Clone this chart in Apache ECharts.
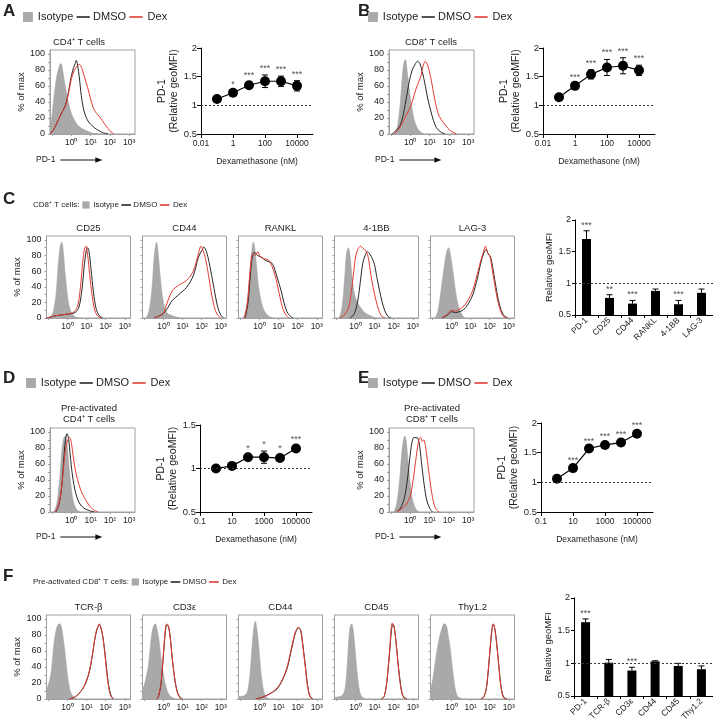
<!DOCTYPE html>
<html><head><meta charset="utf-8">
<script src="https://cdn.jsdelivr.net/npm/echarts@6/dist/echarts.min.js"></script>
<style>html,body{margin:0;padding:0;background:#fff}#c{width:713px;height:727px}</style>
</head><body><div id="c"></div>
<script>
// ---------------- DATA ----------------
const legendLabels = ['Isotype', 'DMSO', 'Dex'];
const histXTicks = [0, 1, 2, 3];
const histXTickLabels = ['10⁰', '10¹', '10²', '10³'];
const histYTicks = [0, 20, 40, 60, 80, 100];

// Panel A/B: dose response (nM)
const doseAB = [0.1, 1, 10, 100, 1000, 10000];
const xTicksAB = [0.01, 1, 100, 10000];
const xTickLabelsAB = ['0.01', '1', '100', '10000'];
const pd1CD4 = [1.11, 1.22, 1.35, 1.42, 1.42, 1.34];
const pd1CD4Err = [0.02, 0.03, 0.05, 0.11, 0.09, 0.09];
const pd1CD4Sig = ['', '*', '***', '***', '***', '***'];
const pd1CD8 = [1.14, 1.34, 1.54, 1.66, 1.69, 1.61];
const pd1CD8Err = [0.02, 0.03, 0.08, 0.14, 0.14, 0.09];
const pd1CD8Sig = ['', '***', '***', '***', '***', '***'];

// Panel D/E
const doseDE = [1, 10, 100, 1000, 10000, 100000];
const xTicksDE = [0.1, 10, 1000, 100000];
const xTickLabelsDE = ['0.1', '10', '1000', '100000'];
const pd1PreCD4 = [1.00, 1.03, 1.13, 1.13, 1.12, 1.23];
const pd1PreCD4Err = [0.01, 0.01, 0.03, 0.07, 0.04, 0.03];
const pd1PreCD4Sig = ['', '', '*', '*', '*', '***'];
const pd1PreCD8 = [1.06, 1.24, 1.57, 1.63, 1.67, 1.82];
const pd1PreCD8Err = [0.01, 0.01, 0.01, 0.03, 0.03, 0.03];
const pd1PreCD8Sig = ['', '***', '***', '***', '***', '***'];

// Panel C / F bar charts
const catC = ['PD-1', 'CD25', 'CD44', 'RANKL', '4-1BB', 'LAG-3'];
const valC = [1.70, 0.77, 0.68, 0.88, 0.67, 0.85];
const errC = [0.13, 0.05, 0.05, 0.03, 0.06, 0.06];
const sigC = ['***', '**', '***', '', '***', ''];
const catF = ['PD-1', 'TCR-β', 'CD3ε', 'CD44', 'CD45', 'Thy1.2'];
const valF = [1.63, 1.01, 0.89, 1.03, 0.96, 0.91];
const errF = [0.05, 0.05, 0.05, 0.01, 0.04, 0.05];
const sigF = ['***', '', '***', '', '', ''];

const histTitlesC = ['CD25', 'CD44', 'RANKL', '4-1BB', 'LAG-3'];
const histTitlesF = ['TCR-β', 'CD3ε', 'CD44', 'CD45', 'Thy1.2'];

// Histogram curves: [log10(intensity), % of max]
const isoA = [[-1.1,5],[-1.0,22],[-0.9,45],[-0.75,72],[-0.6,86],[-0.53,88],[-0.45,80],[-0.3,58],[-0.15,40],[0,26],[0.15,18],[0.3,12],[0.55,7],[0.8,4],[1.1,1],[1.5,0]];
const dmsoA = [[-1.1,0],[-0.9,6],[-0.7,16],[-0.5,26],[-0.3,36],[-0.15,52],[0,72],[0.12,83],[0.2,88],[0.26,92],[0.33,86],[0.42,70],[0.52,48],[0.62,33],[0.75,22],[0.9,15],[1.1,10],[1.3,6],[1.6,2],[1.9,0]];
const dexA = [[-1.1,0],[-0.9,6],[-0.7,16],[-0.5,26],[-0.3,35],[-0.15,50],[0,68],[0.15,79],[0.3,85],[0.42,87],[0.55,82],[0.7,70],[0.85,58],[1.0,44],[1.15,32],[1.3,26],[1.45,22],[1.6,17],[1.8,10],[2.0,4],[2.2,0]];

const isoB = [[-0.8,0],[-0.65,10],[-0.5,43],[-0.4,75],[-0.32,89],[-0.25,93],[-0.15,76],[-0.05,55],[0.05,38],[0.2,18],[0.35,8],[0.5,3],[0.7,0]];
const dmsoB = [[-0.95,0],[-0.75,4],[-0.56,9],[-0.4,20],[-0.3,32],[-0.15,52],[-0.05,66],[0.1,80],[0.25,87],[0.38,91],[0.5,88],[0.62,78],[0.75,64],[0.9,45],[1.05,30],[1.2,17],[1.35,8],[1.55,3],[1.8,0]];
const dexB = [[-0.85,0],[-0.6,6],[-0.4,14],[-0.2,24],[-0.05,31],[0.1,40],[0.28,55],[0.45,66],[0.55,72],[0.65,84],[0.78,91],[0.9,86],[1.05,72],[1.2,52],[1.35,34],[1.5,22],[1.7,15],[1.95,7],[2.15,3],[2.4,0]];

const isoC1 = [[-0.9,0],[-0.75,8],[-0.6,30],[-0.48,70],[-0.38,92],[-0.3,97],[-0.22,85],[-0.12,55],[0,28],[0.12,12],[0.28,4],[0.45,1],[0.6,0]];
const dmsoC1 = [[-1.1,0],[-0.6,3],[0,5],[0.4,7],[0.6,14],[0.75,35],[0.87,65],[0.98,86],[1.05,90],[1.13,85],[1.23,63],[1.36,33],[1.5,12],[1.66,3],[1.85,0]];
const dexC1 = [[-1.1,0],[-0.6,3],[0,5],[0.35,8],[0.55,17],[0.68,40],[0.8,72],[0.9,90],[0.97,92],[1.05,82],[1.16,56],[1.3,27],[1.44,9],[1.6,2],[1.78,0]];
const isoC2 = [[-0.9,0],[-0.75,10],[-0.6,38],[-0.5,75],[-0.42,92],[-0.37,97],[-0.3,88],[-0.2,60],[-0.08,32],[0.05,14],[0.2,6],[0.45,3],[0.7,1],[0.9,0]];
const dmsoC2 = [[-0.5,0],[-0.2,3],[0,6],[0.17,11],[0.45,22],[0.8,30],[1.2,39],[1.56,54],[1.83,78],[2.0,86],[2.11,91],[2.25,85],[2.4,70],[2.57,48],[2.72,28],[2.85,13],[3.0,4],[3.15,0]];
const dexC2 = [[-0.5,0],[-0.2,3],[0,6],[0.17,18],[0.46,35],[0.8,42],[1.2,48],[1.56,60],[1.83,82],[1.96,92],[2.05,88],[2.2,76],[2.35,56],[2.5,33],[2.65,15],[2.8,5],[3.0,0]];
const isoC3 = [[-0.85,0],[-0.7,12],[-0.55,45],[-0.42,82],[-0.32,97],[-0.25,90],[-0.15,65],[-0.05,40],[0.1,20],[0.25,9],[0.45,3],[0.7,0]];
const dmsoC3 = [[-0.75,0],[-0.6,20],[-0.48,55],[-0.38,78],[-0.25,84],[-0.1,80],[0.1,78],[0.3,74],[0.5,72],[0.66,70],[0.8,62],[0.95,50],[1.12,36],[1.28,20],[1.42,9],[1.58,3],[1.75,0]];
const dexC3 = [[-0.78,0],[-0.62,22],[-0.5,58],[-0.4,80],[-0.32,83],[-0.2,80],[-0.1,85],[0.05,78],[0.25,76],[0.48,74],[0.66,66],[0.8,56],[0.93,43],[1.08,26],[1.22,12],[1.38,4],[1.55,0]];
const isoC4 = [[-0.85,0],[-0.7,14],[-0.57,50],[-0.47,82],[-0.37,90],[-0.28,78],[-0.18,52],[-0.05,30],[0.1,20],[0.25,14],[0.4,9],[0.6,5],[0.85,2],[1.1,0]];
const dmsoC4 = [[-0.3,0],[-0.1,4],[0.05,14],[0.17,30],[0.28,52],[0.38,70],[0.5,80],[0.62,85],[0.75,82],[0.88,76],[0.99,69],[1.12,52],[1.26,35],[1.4,20],[1.54,9],[1.7,2],[1.85,0]];
const dexC4 = [[-0.8,0],[-0.55,5],[-0.35,14],[-0.19,39],[-0.08,62],[0,78],[0.12,88],[0.26,92],[0.4,89],[0.55,86],[0.68,76],[0.8,56],[0.95,36],[1.08,22],[1.22,10],[1.35,3],[1.55,0]];
const isoC5 = [[-0.85,0],[-0.7,10],[-0.55,35],[-0.4,62],[-0.25,85],[-0.15,90],[-0.05,80],[0.1,55],[0.25,28],[0.4,12],[0.55,4],[0.7,0]];
const dmsoC5 = [[-0.5,0],[-0.2,4],[0,8],[0.2,7],[0.4,8],[0.6,10],[0.85,17],[1.12,30],[1.35,50],[1.55,72],[1.72,85],[1.82,88],[1.92,82],[2.05,78],[2.15,66],[2.3,44],[2.45,24],[2.6,10],[2.75,3],[2.95,0]];
const dexC5 = [[-0.5,0],[-0.2,5],[0,10],[0.2,9],[0.4,11],[0.6,14],[0.85,22],[1.12,36],[1.35,56],[1.55,75],[1.7,87],[1.78,92],[1.88,84],[2.0,80],[2.12,64],[2.27,42],[2.42,22],[2.57,9],[2.72,2],[2.9,0]];

const isoD = [[-0.9,0],[-0.75,10],[-0.6,40],[-0.48,78],[-0.38,93],[-0.3,95],[-0.22,85],[-0.12,58],[0,30],[0.12,12],[0.28,3],[0.45,0]];
const dmsoD = [[-0.8,0],[-0.65,8],[-0.5,30],[-0.4,62],[-0.3,90],[-0.22,98],[-0.14,92],[-0.05,70],[0.05,48],[0.17,30],[0.3,18],[0.45,10],[0.65,5],[0.9,2],[1.2,0]];
const dexD = [[-0.85,0],[-0.7,6],[-0.55,22],[-0.42,50],[-0.3,78],[-0.18,90],[-0.08,93],[0.02,84],[0.12,66],[0.25,48],[0.4,34],[0.55,24],[0.7,17],[0.85,11],[1.0,6],[1.2,2],[1.4,0]];
const isoE = [[-0.85,0],[-0.7,10],[-0.55,40],[-0.42,78],[-0.33,92],[-0.27,95],[-0.2,86],[-0.1,60],[0,35],[0.12,15],[0.28,4],[0.45,0]];
const dmsoE = [[-0.7,0],[-0.5,5],[-0.3,18],[-0.15,40],[-0.02,68],[0.08,86],[0.18,93],[0.3,93],[0.4,92],[0.5,80],[0.6,58],[0.72,34],[0.85,15],[1.0,5],[1.15,0]];
const dexE = [[-0.7,0],[-0.45,4],[-0.2,10],[0,20],[0.12,35],[0.25,58],[0.37,80],[0.47,92],[0.55,93],[0.62,88],[0.7,90],[0.8,80],[0.92,58],[1.05,34],[1.18,15],[1.32,4],[1.5,0]];

const isoF1 = [[-1.1,11],[-0.95,22],[-0.85,34],[-0.7,71],[-0.55,90],[-0.43,94],[-0.34,92],[-0.25,80],[-0.15,62],[-0.05,40],[0.03,24],[0.12,12],[0.21,6],[0.35,2],[0.5,0]];
const dmsoF1 = [[0.1,0],[0.35,2],[0.57,6],[0.8,13],[0.94,19],[1.1,30],[1.21,41],[1.32,57],[1.42,73],[1.52,85],[1.6,90],[1.68,93],[1.75,89],[1.85,78],[1.95,60],[2.05,38],[2.15,18],[2.27,5],[2.4,0]];
const dexF1 = [[0.1,0],[0.35,2],[0.57,6],[0.8,13],[0.94,20],[1.1,31],[1.21,43],[1.32,58],[1.42,74],[1.52,86],[1.6,91],[1.66,94],[1.74,90],[1.84,79],[1.94,60],[2.04,37],[2.14,17],[2.26,4],[2.4,0]];
const isoF2 = [[-1.1,12],[-1.0,18],[-0.9,28],[-0.8,40],[-0.7,62],[-0.6,84],[-0.5,92],[-0.42,94],[-0.35,88],[-0.25,76],[-0.15,55],[-0.05,36],[0.09,19],[0.2,10],[0.3,5],[0.45,2],[0.6,0]];
const dmsoF2 = [[-0.35,0],[-0.25,4],[-0.13,19],[-0.05,40],[0.02,62],[0.08,80],[0.13,90],[0.18,93],[0.25,91],[0.32,84],[0.4,66],[0.47,48],[0.55,32],[0.64,18],[0.75,7],[0.88,2],[1.0,0]];
const dexF2 = [[-0.35,0],[-0.25,5],[-0.13,21],[-0.05,43],[0.02,65],[0.08,83],[0.13,92],[0.18,94],[0.24,92],[0.3,86],[0.38,70],[0.46,50],[0.55,32],[0.64,17],[0.75,6],[0.88,1],[1.0,0]];
const isoF3 = [[-1.1,3],[-0.8,4],[-0.65,8],[-0.55,20],[-0.46,41],[-0.38,68],[-0.3,88],[-0.22,97],[-0.14,88],[-0.06,71],[0.02,48],[0.08,32],[0.17,16],[0.26,6],[0.38,2],[0.5,0]];
const dmsoF3 = [[-0.2,0],[0.12,2],[0.5,6],[0.85,11],[1.05,17],[1.21,24],[1.35,32],[1.48,41],[1.62,56],[1.75,70],[1.85,80],[1.94,86],[2.0,88],[2.06,89],[2.15,87],[2.22,78],[2.3,62],[2.4,42],[2.48,24],[2.57,10],[2.66,3],[2.8,0]];
const dexF3 = [[-0.2,0],[0.12,2],[0.5,6],[0.85,12],[1.05,18],[1.21,25],[1.35,33],[1.48,43],[1.62,58],[1.75,72],[1.85,82],[1.94,87],[2.02,90],[2.08,88],[2.15,86],[2.22,76],[2.3,60],[2.4,40],[2.48,22],[2.57,9],[2.66,2],[2.8,0]];
const isoF4 = [[-1.1,2],[-0.8,3],[-0.65,6],[-0.55,12],[-0.47,30],[-0.41,50],[-0.35,75],[-0.28,90],[-0.2,94],[-0.12,86],[-0.06,72],[0.02,50],[0.08,34],[0.17,16],[0.26,6],[0.38,2],[0.5,0]];
const dmsoF4 = [[1.35,0],[1.5,3],[1.63,19],[1.72,40],[1.8,62],[1.88,85],[1.95,93],[2.0,92],[2.06,85],[2.12,72],[2.19,55],[2.26,38],[2.35,20],[2.44,7],[2.55,2],[2.7,0]];
const dexF4 = [[1.35,0],[1.5,3],[1.63,20],[1.72,42],[1.8,65],[1.87,88],[1.93,95],[1.99,93],[2.05,86],[2.12,72],[2.19,54],[2.26,36],[2.35,18],[2.44,6],[2.55,1],[2.7,0]];
const isoF5 = [[-1.1,12],[-1.0,22],[-0.88,41],[-0.75,62],[-0.61,79],[-0.5,88],[-0.43,93],[-0.34,94],[-0.25,90],[-0.15,76],[-0.06,62],[0.03,42],[0.12,24],[0.2,12],[0.3,4],[0.45,1],[0.6,0]];
const dmsoF5 = [[1.55,0],[1.7,3],[1.82,12],[1.9,28],[1.98,50],[2.06,72],[2.13,88],[2.19,93],[2.25,90],[2.32,80],[2.4,62],[2.48,42],[2.56,22],[2.65,8],[2.75,2],[2.9,0]];
const dexF5 = [[1.55,0],[1.7,3],[1.82,13],[1.9,30],[1.98,52],[2.06,75],[2.13,90],[2.19,94],[2.25,90],[2.32,78],[2.4,60],[2.48,40],[2.56,20],[2.65,7],[2.75,1],[2.9,0]];

// ---------------- STYLE / BUILD ----------------
const FONT = "'Liberation Sans',Arial,sans-serif";
const ISO_FILL = '#a9a9a9', DMSO_C = '#262626', DEX_C = '#e23b33', TXT = '#222';
const grids = [], xAxes = [], yAxes = [], series = [], graphics = [];
const mctx = document.createElement('canvas').getContext('2d');
function tw(t, size, weight) { mctx.font = (weight || 'normal') + ' ' + size + 'px ' + FONT; return mctx.measureText(t).width; }

function txt(x, y, t, size, o) {
  o = o || {};
  graphics.push({ type: 'text', x: x, y: y, silent: true, z: 10,
    style: { text: t, fontSize: size, fontFamily: FONT, fontWeight: o.weight || 'normal', fill: o.fill || TXT,
      align: o.align || 'left', verticalAlign: o.va || 'middle' } });
}
function hline(x1, x2, y, color, w) {
  graphics.push({ type: 'line', silent: true, z: 10, shape: { x1: x1, y1: y, x2: x2, y2: y }, style: { stroke: color, lineWidth: w || 1.5 } });
}
function legend(x, y, size, prefix) {
  let cx = x;
  if (prefix) { txt(cx, y, prefix, size); cx += tw(prefix, size) + size * 0.35; }
  const sq = size * 0.9;
  graphics.push({ type: 'rect', silent: true, z: 10, shape: { x: cx, y: y - sq / 2, width: sq, height: sq }, style: { fill: ISO_FILL } });
  cx += sq + size * 0.45;
  txt(cx, y, legendLabels[0], size); cx += tw(legendLabels[0], size) + size * 0.3;
  hline(cx, cx + size * 1.2, y, DMSO_C, 1.6); cx += size * 1.2 + size * 0.3;
  txt(cx, y, legendLabels[1], size); cx += tw(legendLabels[1], size) + size * 0.3;
  hline(cx, cx + size * 1.2, y, DEX_C, 1.6); cx += size * 1.2 + size * 0.45;
  txt(cx, y, legendLabels[2], size);
}
function arrowLabel(x, y) {
  txt(x, y, 'PD-1', 8.5);
  const x1 = x + tw('PD-1', 8.5) + 5, x2 = x1 + 42;
  graphics.push({ type: 'line', silent: true, z: 10, shape: { x1: x1, y1: y, x2: x2 - 4, y2: y }, style: { stroke: '#111', lineWidth: 1 } });
  graphics.push({ type: 'polygon', silent: true, z: 10, shape: { points: [[x2, y], [x2 - 7, y - 2.8], [x2 - 7, y + 2.8]] }, style: { fill: '#111' } });
}

function addHist(left, top, w, h, curves, showYLabels, yName) {
  const gi = grids.length;
  grids.push({ left: left, top: top, width: w, height: h, show: true, borderColor: '#a0a0a0', borderWidth: 1 });
  xAxes.push({ gridIndex: gi, type: 'value', min: -1.1, max: 3.3,
    axisLine: { show: true, onZero: false, lineStyle: { color: '#a0a0a0' } },
    axisTick: { show: true, length: 2, customValues: [-1, 0, 1, 2, 3], lineStyle: { color: '#a0a0a0' } },
    axisLabel: { show: true, customValues: histXTicks, formatter: v => histXTickLabels[histXTicks.indexOf(v)], fontSize: 8.5, margin: 4, color: TXT, fontFamily: FONT },
    splitLine: { show: false } });
  yAxes.push({ gridIndex: gi, type: 'value', min: 0, max: 105,
    axisLine: { show: true, onZero: false, lineStyle: { color: '#a0a0a0' } },
    axisTick: { show: true, length: 2, customValues: [0, 10, 20, 30, 40, 50, 60, 70, 80, 90, 100], lineStyle: { color: '#a0a0a0' } },
    axisLabel: { show: showYLabels, customValues: histYTicks, fontSize: 9, margin: 5, color: TXT, fontFamily: FONT },
    splitLine: { show: false },
    name: yName ? '% of max' : '', nameLocation: 'middle', nameGap: 22, nameTextStyle: { fontSize: 9.5, color: TXT, fontFamily: FONT } });
  const base = { type: 'line', xAxisIndex: gi, yAxisIndex: gi, smooth: 0.3, symbol: 'none', silent: true, clip: true };
  series.push(Object.assign({}, base, { data: curves[0], lineStyle: { color: '#a3a3a3', width: 0.6 }, areaStyle: { color: ISO_FILL, opacity: 1 }, z: 1 }));
  series.push(Object.assign({}, base, { data: curves[1], lineStyle: { color: DMSO_C, width: 1 }, z: 2 }));
  series.push(Object.assign({}, base, { data: curves[2], lineStyle: { color: DEX_C, width: 1 }, z: 3 }));
}

function errSeries(gi, data, caps) {
  series.push({ type: 'custom', xAxisIndex: gi, yAxisIndex: gi, silent: true, z: 4, data: data, encode: { x: 0, y: [1, 2] },
    renderItem: function (params, api) {
      const p1 = api.coord([api.value(0), api.value(1)]), p2 = api.coord([api.value(0), api.value(2)]);
      const c = 3, st = { stroke: '#000', lineWidth: 1 };
      const ch = [{ type: 'line', shape: { x1: p1[0], y1: p1[1], x2: p2[0], y2: p2[1] }, style: st },
                  { type: 'line', shape: { x1: p2[0] - c, y1: p2[1], x2: p2[0] + c, y2: p2[1] }, style: st }];
      if (caps) ch.push({ type: 'line', shape: { x1: p1[0] - c, y1: p1[1], x2: p1[0] + c, y2: p1[1] }, style: st });
      return { type: 'group', children: ch };
    } });
}
function starSeries(gi, data, sigs, dist) {
  series.push({ type: 'scatter', xAxisIndex: gi, yAxisIndex: gi, silent: true, symbolSize: 0, z: 5, data: data,
    label: { show: true, position: 'top', distance: dist, formatter: p => sigs[p.dataIndex], fontSize: 9, color: TXT, fontFamily: FONT } });
}
const refLine = { silent: true, symbol: 'none', label: { show: false }, lineStyle: { type: [2, 2], color: '#333', width: 1 }, data: [{ yAxis: 1 }] };

function addLineChart(left, top, w, h, xMin, xMax, xTicksRaw, xTickLabels, yMin, yMax, doses, vals, errs, sigs) {
  const gi = grids.length;
  const xt = xTicksRaw.map(v => Math.round(Math.log10(v)));
  grids.push({ left: left, top: top, width: w, height: h, show: false });
  xAxes.push({ gridIndex: gi, type: 'value', min: xMin, max: xMax,
    axisLine: { show: true, onZero: false, lineStyle: { color: '#000', width: 1 } },
    axisTick: { show: true, length: 4, customValues: xt, lineStyle: { color: '#000' } },
    axisLabel: { customValues: xt, formatter: v => xTickLabels[xt.indexOf(v)], fontSize: 8.5, margin: 5, color: TXT, fontFamily: FONT },
    splitLine: { show: false },
    name: 'Dexamethasone (nM)', nameLocation: 'middle', nameGap: 23, nameTextStyle: { fontSize: 8.5, color: TXT, fontFamily: FONT } });
  yAxes.push({ gridIndex: gi, type: 'value', min: yMin, max: yMax, interval: 0.5,
    axisLine: { show: true, onZero: false, lineStyle: { color: '#000', width: 1 } },
    axisTick: { show: true, length: 4, lineStyle: { color: '#000' } },
    axisLabel: { formatter: v => String(v), fontSize: 9.5, margin: 4, color: TXT, fontFamily: FONT },
    splitLine: { show: false },
    name: 'PD-1\n(Relative geoMFI)', nameLocation: 'middle', nameGap: 17, nameTextStyle: { fontSize: 10.5, lineHeight: 12, color: TXT, fontFamily: FONT } });
  const pts = doses.map((d, i) => [Math.log10(d), vals[i]]);
  series.push({ type: 'line', xAxisIndex: gi, yAxisIndex: gi, data: pts, symbol: 'circle', symbolSize: 10, silent: true, z: 3,
    itemStyle: { color: '#000' }, lineStyle: { color: '#000', width: 1.2 }, markLine: refLine });
  errSeries(gi, doses.map((d, i) => [Math.log10(d), vals[i] - errs[i], vals[i] + errs[i]]), true);
  starSeries(gi, doses.map((d, i) => [Math.log10(d), vals[i] + errs[i]]), sigs, 2);
}

function addBarChart(left, top, w, h, cats, vals, errs, sigs) {
  const gi = grids.length;
  grids.push({ left: left, top: top, width: w, height: h, show: false });
  xAxes.push({ gridIndex: gi, type: 'category', data: cats,
    axisLine: { show: true, onZero: false, lineStyle: { color: '#000' } },
    axisTick: { show: true, length: 3, lineStyle: { color: '#000' } },
    axisLabel: { interval: 0, rotate: 45, fontSize: 8.5, margin: 4, color: TXT, fontFamily: FONT },
    splitLine: { show: false } });
  yAxes.push({ gridIndex: gi, type: 'value', min: 0.5, max: 2, interval: 0.5,
    axisLine: { show: true, onZero: false, lineStyle: { color: '#000' } },
    axisTick: { show: true, length: 3, lineStyle: { color: '#000' } },
    axisLabel: { formatter: v => String(v), fontSize: 9, margin: 4, color: TXT, fontFamily: FONT },
    splitLine: { show: false },
    name: 'Relative geoMFI', nameLocation: 'middle', nameGap: 19, nameTextStyle: { fontSize: 9.5, color: TXT, fontFamily: FONT } });
  series.push({ type: 'bar', xAxisIndex: gi, yAxisIndex: gi, data: vals, barWidth: 9, silent: true, z: 3,
    itemStyle: { color: '#000' }, markLine: refLine });
  errSeries(gi, vals.map((v, i) => [i, v, v + errs[i]]), false);
  starSeries(gi, vals.map((v, i) => [i, v + errs[i]]), sigs, 1);
}

// ---- Panel A ----
txt(3, 11, 'A', 17, { weight: 'bold' });
legend(23, 17, 11);
txt(79, 42, 'CD4⁺ T cells', 9.5, { align: 'center' });
addHist(50, 50, 85, 84, [isoA, dmsoA, dexA], true, true);
arrowLabel(36, 160);
addLineChart(201, 48, 112, 86, -2, 5, xTicksAB, xTickLabelsAB, 0.5, 2, doseAB, pd1CD4, pd1CD4Err, pd1CD4Sig);

// ---- Panel B ----
txt(358, 11, 'B', 17, { weight: 'bold' });
legend(368, 17, 11);
txt(431, 42, 'CD8⁺ T cells', 9.5, { align: 'center' });
addHist(389, 50, 85, 84, [isoB, dmsoB, dexB], true, true);
arrowLabel(375, 160);
addLineChart(543, 48, 112, 86, -2, 5, xTicksAB, xTickLabelsAB, 0.5, 2, doseAB, pd1CD8, pd1CD8Err, pd1CD8Sig);

// ---- Panel C ----
txt(3, 199, 'C', 17, { weight: 'bold' });
legend(33, 205, 8, 'CD8⁺ T cells:');
const histLefts = [46.5, 142.5, 238.5, 334.5, 430.5];
const curvesC = [[isoC1, dmsoC1, dexC1], [isoC2, dmsoC2, dexC2], [isoC3, dmsoC3, dexC3], [isoC4, dmsoC4, dexC4], [isoC5, dmsoC5, dexC5]];
histLefts.forEach((l, i) => {
  txt(l + 42, 228, histTitlesC[i], 9.5, { align: 'center' });
  addHist(l, 236, 84, 82, curvesC[i], i === 0, i === 0);
});
addBarChart(575, 220, 138, 95, catC, valC, errC, sigC);

// ---- Panel D ----
txt(3, 378, 'D', 17, { weight: 'bold' });
legend(26, 383, 11);
txt(89, 408, 'Pre-activated', 9.5, { align: 'center' });
txt(89, 419, 'CD4⁺ T cells', 9.5, { align: 'center' });
addHist(50, 428, 85, 84, [isoD, dmsoD, dexD], true, true);
arrowLabel(36, 537);
addLineChart(200, 425, 112, 87, -1, 6, xTicksDE, xTickLabelsDE, 0.5, 1.5, doseDE, pd1PreCD4, pd1PreCD4Err, pd1PreCD4Sig);

// ---- Panel E ----
txt(358, 378, 'E', 17, { weight: 'bold' });
legend(368, 383, 11);
txt(432, 408, 'Pre-activated', 9.5, { align: 'center' });
txt(432, 419, 'CD8⁺ T cells', 9.5, { align: 'center' });
addHist(389, 428, 85, 84, [isoE, dmsoE, dexE], true, true);
arrowLabel(375, 537);
addLineChart(541, 423, 112, 89, -1, 6, xTicksDE, xTickLabelsDE, 0.5, 2, doseDE, pd1PreCD8, pd1PreCD8Err, pd1PreCD8Sig);

// ---- Panel F ----
txt(3, 576, 'F', 17, { weight: 'bold' });
legend(33, 582, 8, 'Pre-activated CD8⁺ T cells:');
const curvesF = [[isoF1, dmsoF1, dexF1], [isoF2, dmsoF2, dexF2], [isoF3, dmsoF3, dexF3], [isoF4, dmsoF4, dexF4], [isoF5, dmsoF5, dexF5]];
histLefts.forEach((l, i) => {
  txt(l + 42, 607, histTitlesF[i], 9.5, { align: 'center' });
  addHist(l, 615, 84, 84, curvesF[i], i === 0, i === 0);
});
addBarChart(574, 598, 139, 98, catF, valF, errF, sigF);

const chart = echarts.init(document.getElementById('c'), null, { renderer: 'canvas' });
chart.setOption({ animation: false, backgroundColor: '#fff', grid: grids, xAxis: xAxes, yAxis: yAxes, series: series, graphic: graphics });
</script></body></html>
